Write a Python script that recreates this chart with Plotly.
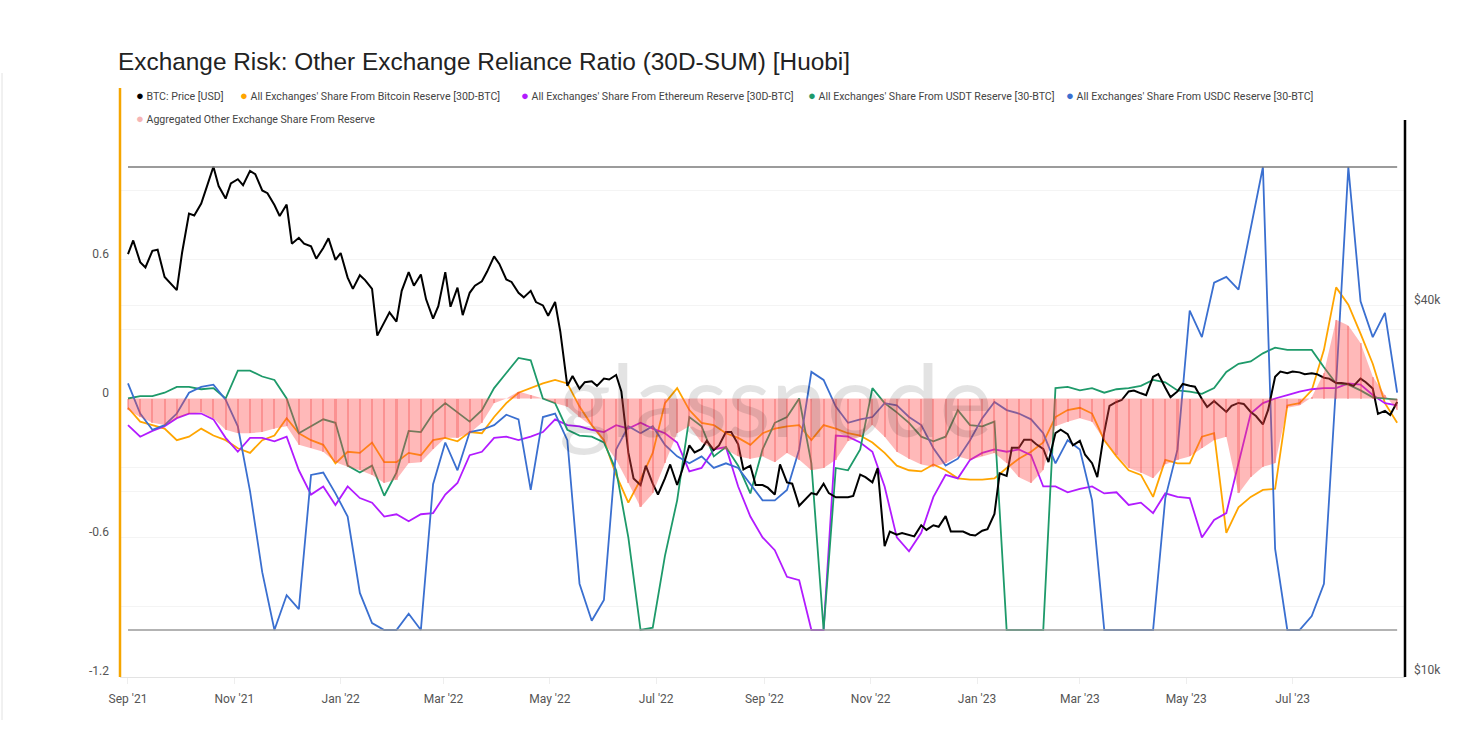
import plotly.graph_objects as go
import pandas as pd

# ---------------- data ----------------
# ratio series: weekly samples (Wednesdays)
dates = pd.date_range("2021-09-01", periods=105, freq="7D")

# BTC price: Wednesday and Saturday samples
price_dates_wed = pd.date_range("2021-09-01", periods=105, freq="7D")
price_dates_sat = pd.date_range("2021-09-04", periods=104, freq="7D")

btc_price_wed = [
    47500, 46100, 48100, 43600, 41500, 55300, 57400, 65900, 58500, 62900,
    64900, 60300, 57100, 57200, 50500, 48900, 48600, 46500, 43500, 43900,
    41700, 36800, 36900, 44400, 44000, 37300, 44400, 41900, 41100, 42900,
    47100, 43200, 41100, 41400, 39200, 39700, 29000, 28700, 29500, 29800,
    30200, 22600, 20000, 20100, 20500, 20000, 23200, 22900, 22800, 24400,
    23300, 21500, 20000, 19300, 20200, 18500, 19400, 20100, 19100, 19100,
    20800, 20200, 15900, 16600, 16600, 17200, 17200, 17800, 16800, 16600,
    16850, 17950, 20700, 23000, 23700, 22900, 24300, 24200, 23600, 21700,
    24400, 27300, 28400, 28200, 30000, 28800, 28400, 29000, 27600, 27400,
    26300, 27200, 26300, 25100, 30000, 30400, 30500, 30400, 29900, 29300,
    29200, 29800, 28700, 26400, 27300,
]

btc_price_sat = [
    50000, 45200, 48300, 42700, 47700, 54900, 60900, 61300, 61900, 61500,
    64100, 59700, 54800, 49400, 49400, 46700, 50400, 47700, 41700, 43100,
    35000, 38200, 41400, 42200, 40100, 39100, 39000, 37800, 42200, 44500,
    45800, 42800, 40400, 39700, 37700, 35500, 30100, 29400, 29000, 29700,
    28400, 20500, 21500, 19300, 21600, 21200, 22600, 23600, 23200, 24400,
    21200, 20000, 19800, 21600, 20100, 18900, 19300, 19400, 19100, 19200,
    20600, 21300, 16800, 16700, 16500, 16900, 17100, 16800, 16800, 16550,
    16950, 20900, 23000, 23700, 23300, 21800, 24600, 23200, 22400, 20600,
    26900, 27500, 28500, 28000, 30300, 27800, 29200, 28900, 26800, 26900,
    26900, 27100, 25900, 26500, 30600, 30600, 30300, 30300, 29800, 29300,
    29000, 29400, 26100, 26000,
]

btc_reserve_share = [
    -0.04, -0.10, -0.115, -0.13, -0.18, -0.165, -0.13, -0.16, -0.18, -0.215,
    -0.235, -0.18, -0.16, -0.085, -0.15, -0.18, -0.20, -0.28, -0.23, -0.235,
    -0.19, -0.275, -0.275, -0.235, -0.245, -0.18, -0.17, -0.185, -0.145, -0.15,
    -0.08, -0.02, 0.025, 0.045, 0.065, 0.08, 0.065, -0.035, -0.115, -0.18,
    -0.33, -0.45, -0.35, -0.235, -0.02, 0.045, -0.05, -0.105, -0.115, -0.15,
    -0.17, -0.20, -0.15, -0.13, -0.12, -0.115, -0.18, -0.115, -0.13, -0.15,
    -0.16, -0.19, -0.235, -0.29, -0.31, -0.315, -0.285, -0.31, -0.345, -0.35,
    -0.35, -0.345, -0.30, -0.26, -0.23, -0.19, -0.08, -0.05, -0.04, -0.065,
    -0.18, -0.25, -0.31, -0.33, -0.425, -0.265, -0.28, -0.28, -0.165, -0.15,
    -0.58, -0.47, -0.425, -0.395, -0.39, -0.03, -0.02, 0.035, 0.21, 0.48,
    0.405, 0.28, 0.15, -0.02, -0.105,
]

eth_reserve_share = [
    -0.115, -0.165, -0.14, -0.12, -0.085, -0.065, -0.065, -0.09, -0.17, -0.23,
    -0.17, -0.17, -0.185, -0.165, -0.31, -0.415, -0.38, -0.46, -0.38, -0.43,
    -0.45, -0.51, -0.50, -0.53, -0.50, -0.495, -0.415, -0.365, -0.245, -0.23,
    -0.17, -0.165, -0.18, -0.165, -0.145, -0.09, -0.115, -0.12, -0.135, -0.145,
    -0.115, -0.13, -0.105, -0.13, -0.15, -0.19, -0.315, -0.30, -0.22, -0.21,
    -0.38, -0.51, -0.60, -0.655, -0.77, -0.785, -1.0, -1.0, -0.16, -0.165,
    -0.19, -0.23, -0.38, -0.60, -0.66, -0.58, -0.425, -0.33, -0.345, -0.265,
    -0.235, -0.22, -0.23, -0.22, -0.245, -0.38, -0.38, -0.405, -0.39, -0.38,
    -0.41, -0.405, -0.46, -0.45, -0.495, -0.41, -0.425, -0.43, -0.60, -0.525,
    -0.495, -0.28, -0.065, -0.02, 0.0, 0.015, 0.03, 0.04, 0.045, 0.045,
    0.065, 0.06, 0.015, -0.02, -0.03,
]

usdt_reserve_share = [
    0.0, 0.01, 0.01, 0.025, 0.05, 0.05, 0.04, 0.045, 0.0, 0.12,
    0.12, 0.095, 0.08, 0.0, -0.15, -0.12, -0.09, -0.105, -0.29, -0.32,
    -0.29, -0.42, -0.32, -0.14, -0.145, -0.065, -0.02, -0.06, -0.10, -0.05,
    0.045, 0.11, 0.175, 0.165, 0.0, -0.02, -0.135, -0.16, -0.165, -0.19,
    -0.31, -0.60, -1.0, -0.99, -0.68, -0.44, -0.08, -0.12, -0.25, -0.21,
    -0.29, -0.41, -0.22, -0.105, -0.08, 0.0, -0.28, -1.0, -0.30, -0.31,
    -0.22, 0.045, -0.02, -0.06, -0.105, -0.165, -0.185, -0.165, -0.05, -0.115,
    -0.12, -0.10, -1.0, -1.0, -1.0, -1.0, 0.045, 0.05, 0.035, 0.045,
    0.025, 0.04, 0.045, 0.055, 0.08, 0.07, 0.035, 0.03, 0.02, 0.045,
    0.115, 0.15, 0.16, 0.195, 0.22, 0.21, 0.21, 0.21, 0.135, 0.065,
    0.06, 0.035, 0.005, 0.0, -0.005,
]

usdc_reserve_share = [
    0.065, -0.065, -0.135, -0.115, -0.065, 0.025, 0.05, 0.06, -0.005, -0.12,
    -0.40, -0.75, -1.0, -0.85, -0.91, -0.33, -0.32, -0.41, -0.51, -0.84,
    -0.97, -1.0, -1.0, -0.93, -1.0, -0.37, -0.19, -0.31, -0.145, -0.135,
    -0.115, -0.07, -0.09, -0.395, -0.08, -0.065, -0.18, -0.80, -0.96, -0.87,
    -0.22, -0.12, -0.15, -0.12, -0.20, -0.25, -0.28, -0.25, -0.30, -0.28,
    -0.30, -0.37, -0.44, -0.44, -0.395, -0.22, 0.115, 0.08, -0.035, -0.105,
    -0.09, -0.08, -0.02, -0.03, -0.08, -0.115, -0.215, -0.29, -0.26, -0.18,
    -0.085, -0.015, -0.05, -0.065, -0.09, -0.15, -0.28, -0.18, -0.22, -0.44,
    -1.0, -1.0, -1.0, -1.0, -1.0, -0.43, -0.22, 0.38, 0.265, 0.50,
    0.525, 0.47, 0.73, 1.0, -0.65, -1.0, -1.0, -0.94, -0.80, 0.065,
    1.0, 0.42, 0.265, 0.37, 0.025,
]

aggregated_share = [
    -0.05, -0.08, -0.105, -0.115, -0.085, -0.065, -0.06, -0.085, -0.135, -0.15,
    -0.15, -0.145, -0.13, -0.12, -0.20, -0.215, -0.23, -0.275, -0.295, -0.31,
    -0.33, -0.365, -0.35, -0.28, -0.275, -0.22, -0.17, -0.17, -0.15, -0.105,
    -0.02, 0.0, 0.03, 0.015, 0.0, -0.02, -0.035, -0.08, -0.12, -0.19,
    -0.265, -0.365, -0.47, -0.41, -0.28, -0.15, -0.12, -0.19, -0.22, -0.22,
    -0.25, -0.26, -0.25, -0.275, -0.235, -0.265, -0.31, -0.30, -0.265, -0.185,
    -0.165, -0.115, -0.165, -0.23, -0.26, -0.285, -0.295, -0.28, -0.25, -0.265,
    -0.25, -0.235, -0.28, -0.34, -0.365, -0.31, -0.12, -0.10, -0.085, -0.10,
    -0.18, -0.245, -0.30, -0.32, -0.345, -0.285, -0.265, -0.25, -0.215, -0.18,
    -0.165, -0.41, -0.34, -0.295, -0.28, -0.04, -0.03, 0.005, 0.11, 0.34,
    0.315, 0.24, 0.095, 0.015, -0.05,
]

left_ticks = [-1.2, -0.6, 0, 0.6]
left_ticktext = ["-1.2", "-0.6", "0", "0.6"]
price_ticks = [10000, 40000]
price_ticktext = ["$10k", "$40k"]
month_ticks = pd.date_range("2021-09-01", "2023-07-01", freq="2MS")

legend_items = [
    ("#000000", "BTC: Price [USD]"),
    ("#FFA500", "All Exchanges' Share From Bitcoin Reserve [30D-BTC]"),
    ("#B21BFF", "All Exchanges' Share From Ethereum Reserve [30D-BTC]"),
    ("#1E9A6A", "All Exchanges' Share From USDT Reserve [30-BTC]"),
    ("#3A6FD0", "All Exchanges' Share From USDC Reserve [30-BTC]"),
    ("#F6B5B5", "Aggregated Other Exchange Share From Reserve"),
]

# combined price series (sorted by date)
price_df = pd.concat([
    pd.Series(btc_price_wed, index=price_dates_wed),
    pd.Series(btc_price_sat, index=price_dates_sat),
]).sort_index()

# ---------------- layout geometry (pixels) ----------------
W, H = 1484, 741
PL, PR, PT, PB = 120, 1405, 120, 677


def pxx(x):
    return (x - PL) / (PR - PL)


def pxy(y):
    return (PB - y) / (PB - PT)


fig = go.Figure()

ratio_series = [
    (btc_reserve_share, legend_items[1]),
    (eth_reserve_share, legend_items[2]),
    (usdt_reserve_share, legend_items[3]),
    (usdc_reserve_share, legend_items[4]),
]
for vals, (col, name) in ratio_series:
    fig.add_trace(go.Scatter(
        x=dates, y=vals, yaxis="y", mode="lines", name=name,
        line=dict(color=col, width=1.8), showlegend=False,
    ))

fig.add_trace(go.Scatter(
    x=price_df.index, y=price_df.values, yaxis="y2", mode="lines",
    name=legend_items[0][1], line=dict(color="#000000", width=2),
    showlegend=False,
))

# aggregated share: translucent area with thin bar stripes on top
fig.add_trace(go.Scatter(
    x=dates, y=aggregated_share, yaxis="y3", mode="lines",
    name=legend_items[5][1], fill="tozeroy",
    fillcolor="rgba(255,70,70,0.38)", line=dict(width=0, color="rgba(0,0,0,0)"),
    showlegend=False,
))
fig.add_trace(go.Bar(
    x=dates, y=aggregated_share, yaxis="y3", name=legend_items[5][1],
    width=1.2 * 86400000,
    marker=dict(color="rgba(235,50,50,0.30)", line=dict(width=0)),
    showlegend=False,
))

axis_font = dict(family="Roboto", size=12, color="#555555")

fig.update_layout(
    width=W, height=H, autosize=False,
    paper_bgcolor="white", plot_bgcolor="white",
    margin=dict(l=PL, r=W - PR, t=PT, b=H - PB, pad=0),
    bargap=0,
    title=dict(
        text="Exchange Risk: Other Exchange Reliance Ratio (30D-SUM) [Huobi]",
        x=118 / W, xanchor="left", xref="container",
        y=1 - 61 / H, yanchor="middle", yref="container",
        font=dict(family="Liberation Sans", size=24.4, color="#222222"),
    ),
    xaxis=dict(
        type="date",
        range=["2021-08-27 10:00", "2023-09-03 12:00"],
        tickvals=month_ticks, tickformat="%b '%y",
        tickfont=axis_font, showgrid=False, zeroline=False,
        showline=True, linecolor="#e3e3e3", linewidth=1,
        ticks="outside", ticklen=6, tickcolor="#eeeeee",
        ticklabelstandoff=5,
    ),
    yaxis=dict(
        range=[-1.203, 1.203], tickvals=left_ticks, ticktext=left_ticktext,
        tickfont=axis_font, showgrid=False, zeroline=False, showline=False,
        ticks="", ticklabelstandoff=10, ticklabelshift=-6,
    ),
    yaxis2=dict(
        overlaying="y", side="right", type="log",
        range=[3.9886, 4.895], tickvals=price_ticks, ticktext=price_ticktext,
        tickfont=axis_font, showgrid=False, zeroline=False, showline=False,
        ticks="", ticklabelstandoff=8,
    ),
    yaxis3=dict(
        overlaying="y", range=[-1.203, 1.203],
        tickvals=[-0.9, -0.6, -0.4, -0.3, 0.3, 0.4, 0.6, 0.9],
        showticklabels=False, showgrid=True, gridcolor="#f4f4f4",
        zeroline=False, showline=False, ticks="",
    ),
    showlegend=False,
)

shapes = [
    # thin frame line at far left
    dict(type="line", xref="paper", yref="paper", x0=pxx(2), x1=pxx(2),
         y0=pxy(720), y1=pxy(73), line=dict(color="#e2e2e2", width=1)),
    dict(type="line", xref="paper", yref="paper", x0=0, x1=0,
         y0=0, y1=pxy(88), line=dict(color="#F5A500", width=2.5)),
    dict(type="line", xref="paper", yref="paper", x0=1, x1=1,
         y0=0, y1=1, line=dict(color="#000000", width=2.5)),
    dict(type="line", xref="x", yref="y", x0=dates[0], x1=dates[-1],
         y0=1, y1=1, line=dict(color="#7a7a7a", width=1.3)),
    dict(type="line", xref="x", yref="y", x0=dates[0], x1=dates[-1],
         y0=-1, y1=-1, line=dict(color="#9a9a9a", width=1.5)),
]
fig.update_layout(shapes=shapes)

annotations = []
annotations.append(dict(
    text="glassnode", x=pxx(775), y=pxy(398), xref="paper", yref="paper",
    xanchor="center", yanchor="middle", showarrow=False,
    font=dict(family="Lato", size=100, color="rgba(0,0,0,0.11)"),
))
legend_pos = [(134, 96), (238, 96), (519, 96), (806, 96), (1064, 96), (134, 118)]
for (col, label), (lx, ly) in zip(legend_items, legend_pos):
    annotations.append(dict(
        text=f"<span style='color:{col};font-size:13px'>●</span> {label}",
        x=pxx(lx), y=pxy(ly), xref="paper", yref="paper",
        xanchor="left", yanchor="middle", showarrow=False,
        font=dict(family="Roboto", size=10.6, color="#444444"),
    ))
fig.update_layout(annotations=annotations)

fig.write_html("out.html", config={"displayModeBar": False},
               post_script="document.body.style.margin='0px';")
